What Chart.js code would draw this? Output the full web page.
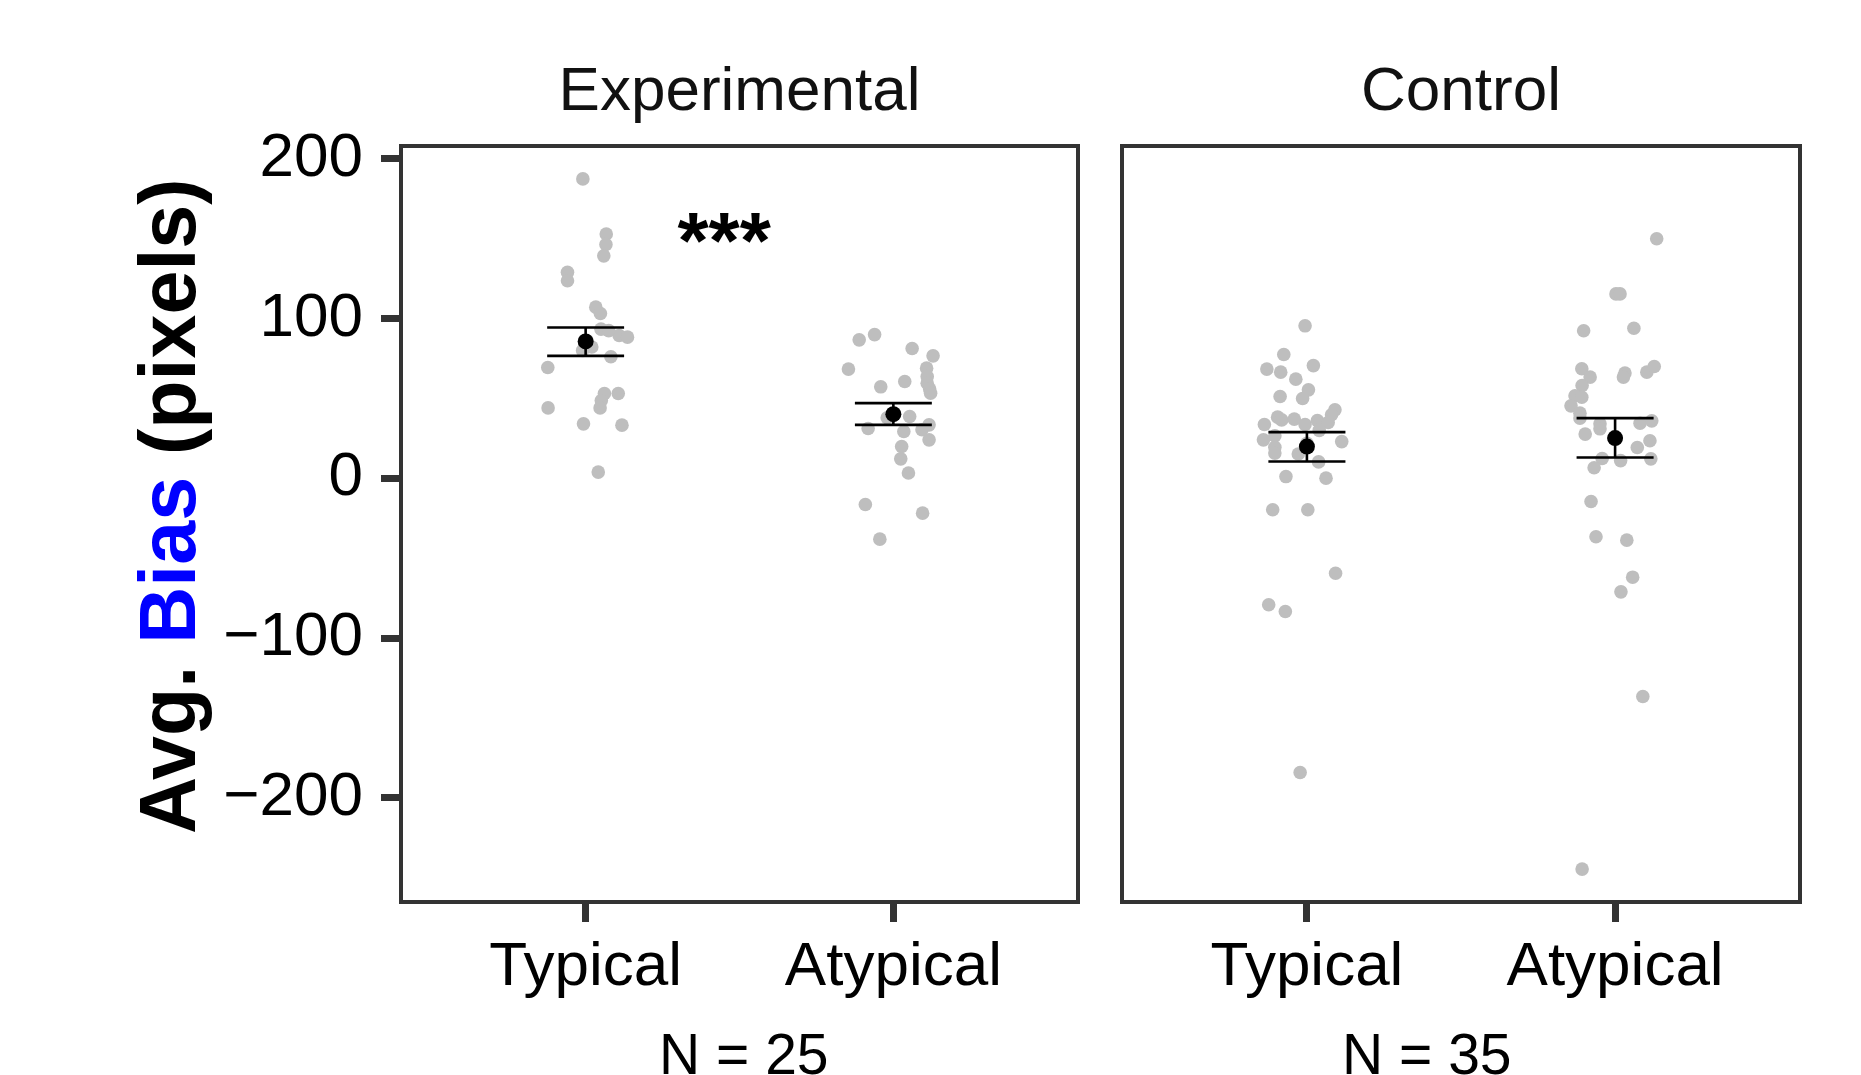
<!DOCTYPE html>
<html>
<head>
<meta charset="utf-8">
<script src="https://cdn.jsdelivr.net/npm/chart.js@4/dist/chart.umd.min.js"></script>
<style>
  html, body { margin: 0; padding: 0; background: #ffffff; }
  body { width: 1861px; height: 1075px; position: relative; overflow: hidden; }
  canvas { position: absolute; top: 0; }
  #c1 { left: 0px; }
  #c2 { left: 1100px; }
</style>
</head>
<body>
<canvas id="c1" width="1100" height="1075"></canvas>
<canvas id="c2" width="761" height="1075"></canvas>
<script>
// ---------------- DATA ----------------
const categories = ['Typical', 'Atypical'];
const panelTitles = ['Experimental', 'Control'];
const panelN = ['N = 25', 'N = 35'];
const panelNAnchor = [1.514, 1.389];   // horizontal anchor of the N label (category units)
const yTickValues = [-200, -100, 0, 100, 200];
const yLimits = [-265.3, 208.1];

// Experimental / Typical : values and horizontal jitter (category units)
const expTypicalY = [187.5, 153, 146.4, 139.3, 129, 123.7, 107.2, 103.2, 93.4, 89.4, 88.4, 82.2, 76.1, 69.4, 53.1, 53.1, 48.7, 44.1, 44.1, 34.1, 33.3, 3.9, 92.5, 86, 80];
const expTypicalJ = [-0.009, 0.067, 0.066, 0.059, -0.059, -0.059, 0.033, 0.048, 0.050, 0.109, 0.136, 0.020, 0.082, -0.123, 0.061, 0.106, 0.051, 0.047, -0.122, -0.007, 0.118, 0.041, 0.075, 0.005, -0.01];
// Experimental / Atypical
const expAtypicalY = [86.7, 90.0, 81.3, 76.7, 68.4, 69, 63.7, 59.6, 55.9, 53.3, 57.3, 60.6, 37.9, 38.7, 31.2, 29.3, 30.4, 33.5, 24.1, 19.9, 12.2, 3.3, -16.4, -21.8, -38.1];
const expAtypicalJ = [-0.111, -0.061, 0.061, 0.129, -0.146, 0.108, 0.110, 0.110, 0.118, 0.121, -0.041, 0.037, -0.020, 0.053, -0.082, 0.034, 0.093, 0.116, 0.116, 0.027, 0.024, 0.049, -0.091, 0.095, -0.044];
// Control / Typical
const ctrlTypicalY = [95.5, 77.5, 68.4, 66.5, 70.6, 62.1, 55.4, 50, 51.2, 42.9, 39.8, 38.3, 36.6, 37.1, 33.7, 33.7, 36.2, 35, 26.6, 24.1, 23, 19.5, 15.8, 15.2, 10.3, 1.1, 0.1, -19.7, -19.7, -59.4, -79.2, -83.4, -184.2, 22, 30];
const ctrlTypicalJ = [-0.006, -0.075, -0.130, -0.085, 0.021, -0.036, 0.005, -0.014, -0.087, 0.091, 0.080, -0.095, -0.082, -0.041, -0.138, -0.006, 0.034, 0.069, -0.104, -0.141, 0.113, -0.104, -0.104, -0.028, 0.038, -0.068, 0.062, -0.111, 0.003, 0.093, -0.124, -0.070, -0.022, 0.0, 0.04];
// Control / Atypical
const ctrlAtypicalY = [150, 115.5, 115.5, 92.4, 94, 68.6, 63.4, 65.9, 63.4, 66.5, 70, 58.1, 51.7, 50.8, 45.4, 40.8, 37.7, 34.1, 31, 34.5, 36, 27.7, 23.5, 19.3, 12.4, 11.1, 12.2, 6.6, -14.5, -36.6, -38.7, -61.9, -71.1, -136.6, -244.7];
const ctrlAtypicalJ = [0.135, 0.003, 0.016, -0.102, 0.061, -0.108, -0.081, 0.032, 0.027, 0.103, 0.127, -0.107, -0.130, -0.108, -0.143, -0.114, -0.114, -0.049, -0.049, 0.081, 0.119, -0.097, 0.113, 0.072, -0.042, 0.018, 0.116, -0.068, -0.078, -0.062, 0.038, 0.057, 0.019, 0.090, -0.107];

// Means with error bar bounds (Typical, Atypical)
const expMeans = [85.7, 40.2];
const expLower = [76.7, 33.5];
const expUpper = [94.4, 47.1];
const ctrlMeans = [19.9, 25.2];
const ctrlLower = [10.5, 13.0];
const ctrlUpper = [28.9, 37.7];

// Significance annotation (Experimental panel)
const sigText = '***';
const sigX = 1.45;
const sigY = 132;

// ---------------- STYLE ----------------
const FONT = "'Liberation Sans', Arial, Helvetica, sans-serif";
const FRAME = '#333333';
const POINT_GREY = '#BEBEBE';
const yTitleParts = [
  { text: 'Avg. ', color: '#000000' },
  { text: 'Bias', color: '#0000FF' },
  { text: ' (pixels)', color: '#000000' }
];

function pts(ys, js, cat) {
  return ys.map((y, i) => ({ x: cat + js[i], y: y }));
}

function makePlugin(opts) {
  return {
    id: 'panelDecor' + opts.idx,
    afterDatasetDraw(chart, args) {
      if (args.index !== 1) return;
      const ctx = chart.ctx, xs = chart.scales.x, ys = chart.scales.y;
      ctx.save();
      ctx.strokeStyle = '#000000';
      ctx.lineWidth = 2.6;
      for (let i = 0; i < 2; i++) {
        const xc = i + 1;
        const xl = xs.getPixelForValue(xc - 0.125), xr = xs.getPixelForValue(xc + 0.125);
        const xm = xs.getPixelForValue(xc);
        const yu = ys.getPixelForValue(opts.upper[i]), yl = ys.getPixelForValue(opts.lower[i]);
        ctx.beginPath();
        ctx.moveTo(xl, yu); ctx.lineTo(xr, yu);
        ctx.moveTo(xl, yl); ctx.lineTo(xr, yl);
        ctx.moveTo(xm, yu); ctx.lineTo(xm, yl);
        ctx.stroke();
      }
      ctx.restore();
    },
    afterDraw(chart) {
      const ctx = chart.ctx, a = chart.chartArea;
      ctx.save();
      // panel frame
      ctx.strokeStyle = FRAME;
      ctx.lineWidth = 4;
      ctx.strokeRect(a.left, a.top, a.right - a.left, a.bottom - a.top);
      // strip title
      ctx.fillStyle = '#111111';
      ctx.font = '62px ' + FONT;
      ctx.textAlign = 'center';
      ctx.textBaseline = 'alphabetic';
      ctx.fillText(opts.title, (a.left + a.right) / 2, 110);
      // N label under the axis
      ctx.fillStyle = '#000000';
      ctx.font = '57px ' + FONT;
      ctx.fillText(opts.nText, chart.scales.x.getPixelForValue(opts.nAnchor), 1074);
      // significance
      if (opts.sig) {
        ctx.fillStyle = '#000000';
        ctx.font = 'bold 80px ' + FONT;
        ctx.fillText(opts.sig.text, chart.scales.x.getPixelForValue(opts.sig.x), chart.scales.y.getPixelForValue(opts.sig.y));
      }
      // y title (multi-coloured)
      if (opts.yTitle) {
        ctx.translate(195, 834);
        ctx.rotate(-Math.PI / 2);
        ctx.font = 'bold 79px ' + FONT;
        ctx.textAlign = 'left';
        let off = 0;
        for (const p of opts.yTitle) {
          ctx.fillStyle = p.color;
          ctx.fillText(p.text, off, 0);
          off += ctx.measureText(p.text).width;
        }
      }
      ctx.restore();
    }
  };
}

function makeChart(canvasId, idx, series, means, lower, upper, showY) {
  const ctx = document.getElementById(canvasId).getContext('2d');
  return new Chart(ctx, {
    type: 'scatter',
    data: {
      datasets: [
        { label: categories[0], order: 3, data: pts(series[0][0], series[0][1], 1), backgroundColor: POINT_GREY, borderWidth: 0, pointRadius: 6.8, pointHoverRadius: 6.8 },
        { label: categories[1], order: 2, data: pts(series[1][0], series[1][1], 2), backgroundColor: POINT_GREY, borderWidth: 0, pointRadius: 6.8, pointHoverRadius: 6.8 },
        { label: 'Mean', order: 0, data: means.map((m, i) => ({ x: i + 1, y: m })), backgroundColor: '#000000', borderWidth: 0, pointRadius: 8, pointHoverRadius: 8 }
      ]
    },
    options: {
      responsive: false,
      animation: false,
      devicePixelRatio: 1,
      events: [],
      layout: { padding: idx === 0 ? { left: 0, top: 146, right: 22, bottom: 0 } : { left: 22, top: 146, right: 61, bottom: 0 } },
      plugins: { legend: { display: false }, tooltip: { enabled: false }, title: { display: false } },
      scales: {
        x: {
          type: 'linear',
          min: 0.4, max: 2.6,
          afterBuildTicks: (s) => { s.ticks = [{ value: 1 }, { value: 2 }]; },
          afterFit: (s) => { s.height = 1075 - 902; },
          ticks: {
            callback: (v) => categories[Math.round(v) - 1],
            font: { family: FONT, size: 62 },
            color: '#000000',
            padding: 9,
            maxRotation: 0, autoSkip: false
          },
          grid: { display: true, drawOnChartArea: false, drawTicks: true, tickLength: 20, tickWidth: 7, tickColor: FRAME },
          border: { display: false },
          title: { display: false }
        },
        y: {
          type: 'linear',
          display: showY,
          min: yLimits[0], max: yLimits[1],
          afterBuildTicks: (s) => { s.ticks = yTickValues.map(v => ({ value: v })); },
          afterFit: (s) => { s.width = showY ? 401 : 0; },
          ticks: {
            callback: (v) => (v < 0 ? '\u2212' + Math.abs(v) : String(v)),
            font: { family: FONT, size: 62 },
            color: '#000000',
            padding: 18
          },
          grid: { display: true, drawOnChartArea: false, drawTicks: true, tickLength: 20, tickWidth: 7, tickColor: FRAME },
          border: { display: false }
        }
      }
    },
    plugins: [makePlugin({
      idx: idx,
      title: panelTitles[idx],
      nText: panelN[idx],
      nAnchor: panelNAnchor[idx],
      lower: lower, upper: upper,
      sig: idx === 0 ? { text: sigText, x: sigX, y: sigY } : null,
      yTitle: idx === 0 ? yTitleParts : null
    })]
  });
}

makeChart('c1', 0, [[expTypicalY, expTypicalJ], [expAtypicalY, expAtypicalJ]], expMeans, expLower, expUpper, true);
makeChart('c2', 1, [[ctrlTypicalY, ctrlTypicalJ], [ctrlAtypicalY, ctrlAtypicalJ]], ctrlMeans, ctrlLower, ctrlUpper, false);
</script>
</body>
</html>
